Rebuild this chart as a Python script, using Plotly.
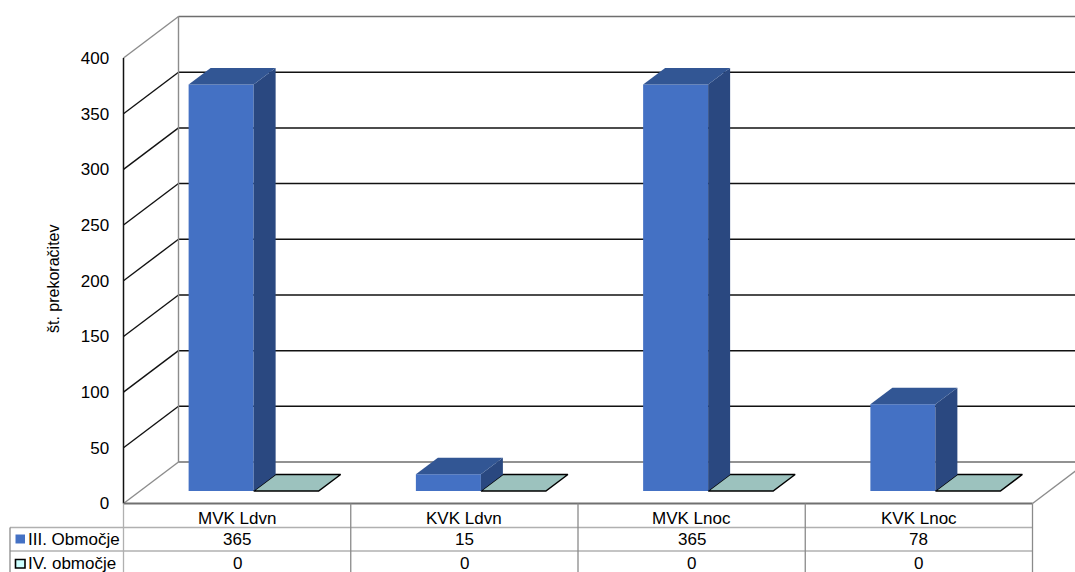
import plotly.graph_objects as go

# ---- data ----
categories = ["MVK Ldvn", "KVK Ldvn", "MVK Lnoc", "KVK Lnoc"]
series_names = ["III. Območje", "IV. območje"]
values_iii = [365, 15, 365, 78]
values_iv = [0, 0, 0, 0]
y_ticks = [0, 50, 100, 150, 200, 250, 300, 350, 400]
y_title = "št. prekoračitev"

# ---- scales: one category and one count unit, in screen pixels ----
W, H = 1075, 572
CAT_PX, VAL_PX = 227.25, 1.11375
X0_PX, Y0_PX = 123.5, 503.5


def X(px):
    return (px - X0_PX) / CAT_PX


def Y(py):
    return (Y0_PX - py) / VAL_PX


X_RANGE = [X(0), X(W)]
Y_RANGE = [Y(H), Y(0)]

WALL_DX, WALL_DY = 55 / CAT_PX, 41.5 / VAL_PX      # depth of the chart box
FACE_DX, FACE_DY = 16.5 / CAT_PX, 12.5 / VAL_PX    # bars' front plane within the box
BAR_DX, BAR_DY = 22 / CAT_PX, 16.5 / VAL_PX        # depth of a bar
BAR_W = 65 / CAT_PX
GAP = (1 - 2 * BAR_W) / 2

BLUE, BLUE_SIDE, BLUE_TOP = "#4471c4", "#2a4880", "#325694"
TEAL_TOP, SWATCH_IV = "#9cc2be", "#ccffff"
GREY, GRID = "#8c8c8c", "#111111"
FONT = "Liberation Sans"
FS = 17

fig = go.Figure()
shapes = []


def seg(x0, y0, x1, y1, color, width):
    shapes.append(dict(type="line", xref="x", yref="y", x0=x0, y0=y0, x1=x1, y1=y1,
                       line=dict(color=color, width=width), layer="below"))


# walls and gridlines
for v in y_ticks:
    edge = v in (y_ticks[0], y_ticks[-1])
    c = GREY if edge else GRID
    seg(0, v, WALL_DX, v + WALL_DY, c, 1.4)
    seg(WALL_DX, v + WALL_DY, X_RANGE[1] + 0.1, v + WALL_DY, "#6e6e6e" if edge else GRID, 1.5)
seg(WALL_DX, y_ticks[0] + WALL_DY, WALL_DX, y_ticks[-1] + WALL_DY, GREY, 1.4)
seg(0, y_ticks[0], 0, y_ticks[-1], GRID, 1.5)
seg(len(categories), 0, len(categories) + WALL_DX, WALL_DY, GREY, 1.4)

# front faces of the bars
lefts = [i + GAP + FACE_DX for i in range(len(categories))]
fig.add_trace(go.Bar(x=[l + BAR_W / 2 for l in lefts], y=values_iii, base=FACE_DY, width=BAR_W,
                     marker=dict(color=BLUE, line=dict(width=0)), name=series_names[0],
                     hoverinfo="skip", showlegend=False))


def poly(xs, ys, fill, line=None, lw=0):
    fig.add_trace(go.Scatter(x=xs + xs[:1], y=ys + ys[:1], mode="lines", fill="toself", fillcolor=fill,
                             line=dict(color=line or fill, width=lw if line else 0),
                             hoverinfo="skip", showlegend=False))


# zero-height series: only its top face shows
for l, v in zip(lefts, values_iv):
    a = l + BAR_W
    b = a + BAR_W
    t = FACE_DY + v
    poly([a, b, b + BAR_DX, a + BAR_DX], [t, t, t + BAR_DY, t + BAR_DY], TEAL_TOP, "#000000", 1.5)

# top and side faces of the blue series
for l, v in zip(lefts, values_iii):
    r = l + BAR_W
    t = FACE_DY + v
    poly([r, r + BAR_DX, r + BAR_DX, r], [FACE_DY, FACE_DY + BAR_DY, t + BAR_DY, t], BLUE_SIDE)
    poly([l, l + BAR_DX, r + BAR_DX, r], [t, t + BAR_DY, t + BAR_DY, t], BLUE_TOP)

# data table
ROW_TOP, ROW_1, ROW_2, ROW_END = Y(503.5), Y(527.5), Y(551), Y(H + 2)
LEFT = X(10)
n = len(categories)
TABLE_GREY, TABLE_LIGHT = "#8a8a8a", "#b0b0b0"
seg(0, ROW_TOP, n, ROW_TOP, "#707070", 2)
seg(LEFT, ROW_1, n, ROW_1, TABLE_LIGHT, 1.3)
seg(LEFT, ROW_2, n, ROW_2, TABLE_LIGHT, 1.3)
seg(LEFT, ROW_1, LEFT, ROW_END, TABLE_GREY, 1.3)
seg(0, ROW_TOP, 0, ROW_END, TABLE_LIGHT, 1.3)
for i in range(1, n + 1):
    seg(i, ROW_TOP, i, ROW_END, TABLE_GREY, 1.3)


def swatch(py0, py1, fill, line=None):
    shapes.append(dict(type="rect", xref="x", yref="y", x0=X(15.5), x1=X(25), y0=Y(py1), y1=Y(py0),
                       fillcolor=fill, line=dict(color=line or fill, width=1.6 if line else 0)))


swatch(534.5, 543.5, BLUE)
swatch(559.5, 568, SWATCH_IV, "#000000")

ann = []


def txt(x, py, s, anchor="center"):
    ann.append(dict(x=x, y=Y(py), text=s, xref="x", yref="y", showarrow=False, xanchor=anchor, yanchor="middle",
                    font=dict(family=FONT, size=FS, color="#000000")))


for i, c in enumerate(categories):
    txt(i + 0.5, 518.5, c)
    txt(i + 0.5, 539.5, str(values_iii[i]))
    txt(i + 0.5, 563.5, str(values_iv[i]))
txt(X(26), 539.5, series_names[0], "left")
txt(X(26), 563.5, series_names[1], "left")
ann.append(dict(x=X(53.5), y=Y(279.5), text=y_title, xref="x", yref="y", showarrow=False, textangle=-90,
                font=dict(family=FONT, size=16, color="#000000")))

fig.update_layout(
    width=W, height=H, margin=dict(l=0, r=0, t=0, b=0), autosize=False,
    paper_bgcolor="white", plot_bgcolor="white", showlegend=False,
    shapes=shapes, annotations=ann, barmode="overlay",
    xaxis=dict(range=X_RANGE, visible=False, fixedrange=True),
    yaxis=dict(range=Y_RANGE, anchor="free", position=X0_PX / W, tickmode="array", tickvals=y_ticks,
               ticktext=[str(v) for v in y_ticks], showgrid=False, zeroline=False, showline=False,
               ticks="outside", ticklen=11, tickcolor="rgba(0,0,0,0)", fixedrange=True,
               tickfont=dict(family=FONT, size=FS, color="#000000")),
)
fig.write_html("out.html", config=dict(displayModeBar=False),
               post_script="document.body.style.margin='0';document.documentElement.style.overflow='hidden';")
